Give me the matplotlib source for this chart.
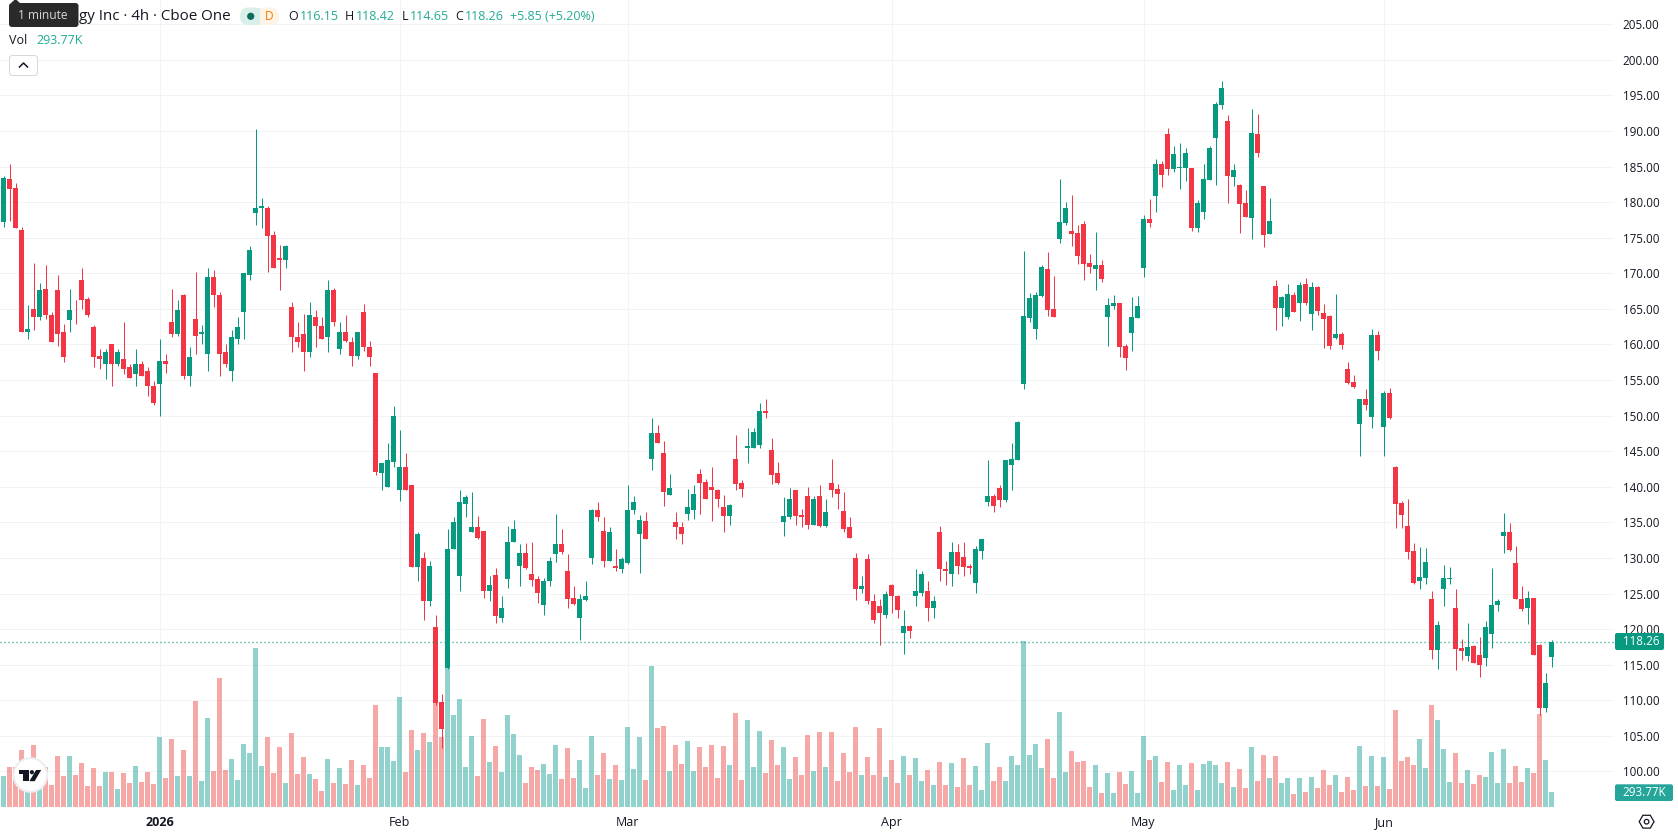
#!/usr/bin/env python3
import numpy as np
import matplotlib
matplotlib.use('Agg')
import matplotlib.pyplot as plt
from matplotlib.patches import Circle, FancyBboxPatch, Polygon, Rectangle, RegularPolygon
from matplotlib.transforms import Affine2D

opens = [177.2,183.2,182.0,176.1,161.8,165.0,163.9,167.8,164.2,167.7,
         161.8,163.4,164.6,169.0,166.4,162.4,158.4,157.2,160.0,157.3,
         158.0,156.9,155.9,157.3,156.3,154.2,154.5,157.7,163.2,161.5,
         166.9,155.5,163.6,161.5,158.6,169.5,166.9,158.9,156.2,160.8,
         164.5,169.8,178.4,179.2,179.2,175.4,172.1,171.9,165.3,161.1,
         161.4,159.0,163.8,162.6,161.0,167.6,159.4,161.7,160.4,158.4,
         164.6,159.7,156.0,142.0,140.0,143.5,139.6,142.8,140.3,128.8,
         130.0,124.0,120.3,109.8,114.6,131.2,127.4,137.6,133.6,134.3,
         133.8,125.3,127.6,121.6,127.1,132.3,128.9,130.7,127.8,127.1,
         123.4,126.7,130.5,131.9,128.1,124.4,121.6,124.1,130.0,136.8,
         133.8,129.6,128.9,128.5,129.3,136.8,133.4,135.2,143.9,147.5,
         144.8,138.9,135.0,134.4,136.2,136.8,141.8,140.7,140.0,139.6,
         137.2,135.9,143.9,140.6,145.4,145.5,145.9,150.6,145.1,142.0,
         135.0,135.8,139.6,136.1,138.7,134.7,138.7,134.5,140.6,139.7,
         136.6,134.3,130.0,125.7,129.8,124.0,123.2,122.0,126.2,124.6,
         119.5,120.5,124.6,125.1,125.4,122.9,133.7,128.5,127.8,130.9,
         130.2,128.9,126.5,131.0,137.9,138.7,139.9,138.2,143.1,143.8,
         154.4,163.7,162.2,166.8,170.6,165.0,174.8,177.1,175.9,175.7,
         176.9,171.4,170.6,171.2,163.9,165.4,165.8,159.8,161.6,163.7,
         170.7,177.6,180.9,185.4,189.6,184.7,184.8,184.8,184.8,176.4,
         178.6,183.1,189.0,193.6,191.4,183.5,182.4,179.9,177.8,189.6,
         182.3,175.5,168.2,165.1,163.9,166.9,165.8,168.5,164.3,168.1,
         164.4,164.0,160.9,161.5,156.6,154.7,148.8,152.3,149.8,161.3,
         148.4,153.2,142.8,137.7,134.5,131.0,126.8,127.2,124.2,117.1,
         125.6,127.0,123.0,117.4,116.2,117.6,116.4,115.9,119.3,123.4,
         133.1,133.7,129.3,124.2,123.0,124.4,117.8,108.9,116.15]
highs = [183.6,185.3,182.7,176.5,165.6,171.5,168.7,171.2,164.5,169.7,
         162.9,167.8,166.2,170.8,166.6,162.8,159.3,159.4,160.0,159.4,
         163.1,157.3,159.4,157.7,156.9,154.8,160.8,158.6,167.8,166.3,
         167.1,159.7,170.2,162.8,170.7,170.5,167.3,160.0,162.1,163.9,
         170.0,173.9,190.3,180.6,179.4,175.9,174.0,174.0,165.9,163.1,
         164.3,165.9,164.8,163.8,169.1,168.0,163.2,164.1,161.1,161.8,
         165.7,160.5,156.0,143.4,146.1,151.3,148.0,144.8,140.3,133.6,
         130.9,129.6,122.0,110.9,134.0,135.7,139.6,138.9,139.3,135.9,
         133.8,127.5,128.6,124.7,134.5,135.4,132.0,132.1,132.3,127.4,
         127.2,130.2,136.2,134.1,130.5,126.0,125.0,126.8,136.9,137.9,
         135.8,134.4,131.2,130.2,140.3,138.7,136.1,136.5,149.7,148.7,
         146.5,141.8,136.4,135.1,139.7,140.3,142.5,141.1,142.8,139.7,
         138.9,137.6,147.3,140.9,148.3,148.3,151.8,152.4,146.9,143.5,
         138.6,139.9,139.6,136.9,140.0,138.7,140.2,138.3,143.9,140.4,
         139.2,135.7,130.7,127.5,130.5,125.0,124.3,125.4,126.4,124.8,
         122.7,120.6,128.5,128.1,126.8,124.6,134.5,129.6,132.3,131.9,
         132.3,129.2,131.7,132.6,143.8,139.0,140.3,143.7,146.1,149.3,
         173.1,167.2,167.4,171.2,173.0,169.6,183.2,180.0,181.0,176.8,
         177.3,172.7,175.8,171.9,166.5,166.9,165.8,160.1,166.7,166.8,
         178.2,180.4,186.1,185.8,190.4,187.9,188.3,187.6,184.8,180.3,
         185.4,187.9,194.1,197.0,192.2,185.4,182.5,181.7,193.1,192.4,
         182.3,180.6,169.1,166.8,168.5,167.4,168.8,169.3,168.8,168.2,
         165.7,164.1,167.1,161.8,157.5,155.7,152.3,153.7,162.2,161.9,
         153.5,153.9,142.9,138.0,138.3,132.1,131.5,131.4,125.4,121.1,
         129.0,128.7,125.6,118.6,120.9,117.8,118.9,121.1,128.6,124.2,
         136.3,134.9,131.7,126.1,125.4,124.4,117.9,113.8,118.42]
lows = [176.5,177.3,176.3,161.7,160.7,162.1,163.4,163.6,160.4,159.8,
        157.6,161.8,162.9,165.0,163.8,156.9,156.6,155.2,154.2,157.0,
        155.9,155.3,154.2,155.5,152.7,151.5,149.9,156.0,161.1,161.2,
        155.1,154.2,158.6,160.0,156.3,165.3,155.6,156.9,154.8,160.0,
        160.8,169.1,176.8,176.3,170.2,170.8,167.7,170.8,159.0,159.6,
        156.2,158.3,159.6,160.8,158.9,162.6,158.7,160.4,157.0,157.9,
        159.1,157.0,141.7,139.5,140.0,142.8,138.0,139.5,128.8,126.8,
        121.3,123.2,109.3,103.3,114.4,131.2,125.3,135.7,133.6,132.7,
        124.4,124.0,120.8,121.0,125.8,132.3,126.0,128.5,126.1,123.7,
        122.0,126.0,129.5,130.5,122.9,123.4,118.5,123.9,129.1,135.2,
        128.8,129.6,128.1,127.9,129.1,136.2,127.9,132.6,142.3,146.2,
        137.3,138.9,132.7,131.9,135.4,135.5,136.2,138.3,135.2,137.1,
        133.6,134.7,139.6,138.5,143.4,145.5,145.4,149.7,140.4,140.4,
        133.1,135.5,134.7,134.3,134.1,134.7,134.4,134.4,138.5,136.9,
        133.7,132.8,124.1,125.1,123.6,120.9,117.8,121.5,122.2,121.6,
        116.5,118.7,123.3,124.6,121.2,121.6,126.7,126.2,126.0,127.8,
        127.5,127.8,125.1,129.8,137.3,136.4,137.1,137.9,139.5,143.8,
        153.7,163.2,160.8,166.7,164.0,163.9,174.3,176.8,173.8,171.3,
        169.1,170.0,167.7,168.8,159.8,165.0,158.2,156.4,159.1,163.7,
        169.5,176.5,178.6,182.1,183.8,184.2,181.8,183.0,175.9,175.8,
        177.6,183.1,182.4,193.1,179.9,182.3,175.7,177.9,174.8,186.3,
        173.7,175.5,162.0,162.6,163.6,164.6,163.3,165.5,162.0,164.1,
        159.5,159.4,160.8,159.4,154.5,153.9,144.3,150.8,148.3,157.8,
        144.3,149.5,134.2,134.2,129.9,126.3,125.6,126.3,115.8,114.4,
        123.3,126.3,114.3,115.7,115.5,115.2,113.3,114.8,117.4,122.6,
        130.7,131.0,124.2,122.6,120.7,116.4,107.9,108.4,114.65]
closes = [183.4,181.9,176.4,161.8,162.2,163.9,167.6,164.1,160.4,161.5,
          158.3,164.8,164.5,166.2,164.2,158.3,157.9,158.9,157.2,159.0,
          156.6,155.3,157.3,155.5,154.2,151.8,157.7,157.2,161.5,164.8,
          155.5,158.2,161.2,161.7,169.5,166.9,158.7,157.3,161.0,162.4,
          170.0,173.3,179.2,179.4,175.3,170.8,171.9,173.9,161.0,160.3,
          159.0,164.1,162.6,160.8,167.6,163.1,161.7,160.5,158.4,161.7,
          159.6,158.3,142.1,143.4,143.7,149.9,142.8,139.6,128.8,133.4,
          123.9,128.9,109.6,106.0,131.2,135.0,137.8,138.5,134.3,132.8,
          125.3,126.2,121.9,123.0,132.3,134.0,130.7,128.6,126.9,125.1,
          126.8,129.6,131.9,130.9,124.3,123.6,124.3,124.7,136.8,135.7,
          129.6,133.6,128.6,129.8,136.8,137.8,135.4,132.7,147.5,146.2,
          139.2,139.9,134.3,133.4,137.1,139.0,140.6,138.3,139.5,138.3,
          135.9,137.5,140.4,139.7,145.8,147.7,150.6,150.3,141.7,140.6,
          135.9,138.3,135.9,135.7,134.7,138.3,134.5,136.4,139.6,139.0,
          134.1,132.8,125.7,126.1,123.9,121.3,122.2,125.0,124.6,122.7,
          120.5,119.8,125.4,127.8,122.9,123.9,128.4,128.2,130.9,128.9,
          128.8,128.6,131.2,132.6,138.7,137.3,138.2,143.7,143.9,149.1,
          164.0,166.5,166.9,170.9,164.8,163.9,177.2,179.2,175.5,172.4,
          171.3,170.9,171.2,169.2,165.5,165.8,159.6,158.1,163.9,165.4,
          177.6,177.1,185.4,183.8,184.7,186.8,184.9,186.9,176.4,179.9,
          183.2,187.6,193.8,196.0,183.7,184.5,179.7,177.9,189.7,186.9,
          175.4,177.3,165.1,166.7,167.1,164.6,168.4,165.8,168.1,164.7,
          163.6,159.8,161.5,159.9,154.6,154.0,152.3,151.5,161.3,159.1,
          153.2,149.7,137.6,136.0,130.8,126.5,127.3,129.4,117.1,120.6,
          127.2,127.2,117.2,116.9,117.5,115.2,115.0,120.3,123.4,124.0,
          133.7,131.1,124.2,122.8,124.4,116.4,108.9,112.4,118.26]
# volume in thousands of shares
volumes = [607,784,784,1117,464,1215,464,784,431,999,
           607,999,627,862,411,764,411,686,686,353,
           666,470,803,490,686,451,1371,568,1332,607,
           1117,607,2077,509,1744,705,2527,725,940,529,
           1234,1058,3115,803,1371,666,1175,470,1450,646,
           980,646,549,313,940,470,764,451,921,431,
           823,568,1998,1175,1175,901,2155,686,1508,1117,
           1450,1273,2161,1378,2814,1802,2116,784,1391,607,
           1724,882,1195,686,1802,1430,1019,470,784,725,
           842,646,1215,549,1156,568,921,372,1391,627,
           1058,549,823,529,1567,744,1371,529,2762,1548,
           1587,705,1215,842,1293,705,1175,784,1215,568,
           1195,823,1841,529,1704,784,1489,666,1313,823,
           1175,549,980,627,1410,705,1469,784,1469,509,
           1058,686,1567,627,980,627,1548,588,921,470,
           999,627,960,509,725,431,882,431,862,392,
           960,431,803,333,1254,509,784,509,999,823,
           3252,1019,1234,764,1332,568,1861,686,1097,882,
           901,392,823,274,666,274,686,451,705,274,
           1391,921,999,490,882,333,823,431,862,333,
           842,901,823,470,882,392,744,372,1175,509,
           1019,568,999,470,568,255,568,294,588,372,
           725,431,627,294,588,333,1195,411,999,411,
           980,353,1900,901,980,823,1332,764,1998,1704,
           1136,490,1058,470,725,451,627,588,1077,470,
           1136,470,803,490,764,666,1822,921,293.77]

month_idx = [26, 66, 104, 148, 190, 230]
month_labels = ['2026', 'Feb', 'Mar', 'Apr', 'May', 'Jun']
price_ticks = np.arange(100, 206, 5)

W, H = 1678, 835
FONT = 'Open Sans'
INK = '#131722'
UP, DOWN = '#089981', '#f23645'
VOL_UP, VOL_DOWN = '#26a69a', '#ef5350'
TEAL_TEXT = '#22ab94'
PX = 0.72  # one pixel in points at dpi 100

plt.rcParams['font.family'] = [FONT, 'DejaVu Sans']

fig = plt.figure(figsize=(W / 100, H / 100), dpi=100, facecolor='white')
rect = [0, (H - 807) / H, 1614 / W, 807 / H]
ax = fig.add_axes(rect, zorder=1)
ax_vol = fig.add_axes(rect, zorder=2, sharex=ax)
ax_px = fig.add_axes(rect, zorder=3, sharex=ax, sharey=ax)

x = np.arange(len(closes))
o, h, l, c = map(np.array, (opens, highs, lows, closes))
up = c >= o

ax.set_xlim(-3.5 / 6, (1614 - 3.5) / 6)
ax.set_ylim(110 - 106.7 / 7.117, 110 + 700.3 / 7.117)
ax.set_xticks(month_idx, month_labels)
ax.set_yticks(price_ticks, [f'{p:.2f}' for p in price_ticks])
ax.yaxis.tick_right()
ax.grid(True, color='#f2f3f5', lw=PX)
ax.set_axisbelow(True)
ax.tick_params(axis='y', length=0, labelcolor=INK, labelsize=8.4, pad=6.3)
ax.tick_params(axis='x', length=0, labelcolor=INK, labelsize=9.0, pad=6.3)
ax.get_xticklabels()[0].set_fontweight('bold')
for s in ax.spines.values():
    s.set_visible(False)

# volume pane shares the price pane's area, scaled down along the bottom
ax_vol.axis('off')
ax_vol.set_ylim(0, 807 * 19.59)
ax_vol.bar(x, volumes, width=5 / 6, linewidth=0, alpha=0.5,
           color=[VOL_UP if u else VOL_DOWN for u in up])

ax_px.axis('off')
candle_colors = [UP if u else DOWN for u in up]
ax_px.vlines(x, l, h, colors=candle_colors, lw=PX)
ax_px.bar(x, np.abs(c - o), bottom=np.minimum(o, c), width=5 / 6, linewidth=0,
          color=candle_colors)
# one pixel on, three off
ax_px.axhline(closes[-1], color=UP, lw=1.0, ls=(0, (0.72, 2.16)), snap=True)

# everything below is placed in screen pixels, y counted from the top
px = Affine2D().scale(1, -1).translate(0, H)


def label(xp, yp, s, color=INK, size=9.0, ha='left', **kw):
    fig.text(xp / W, 1 - yp / H, s, color=color, fontsize=size, ha=ha, va='center',
             zorder=12, **kw)


def box(x0, y0, x1, y1, color, rad=2.0, edge='none', z=10):
    fig.add_artist(FancyBboxPatch((x0, y0), x1 - x0, y1 - y0,
                                  boxstyle=f'round,pad=0,rounding_size={rad}',
                                  fc=color, ec=edge, lw=PX, transform=px, zorder=z))


# last value badges
box(1615, 633, 1664, 650, UP)
label(1622.7, 641.3, f'{closes[-1]:.2f}', color='white', size=8.4)
box(1615, 784.3, 1673, 801, VOL_UP)
label(1622.7, 792.4, f'{volumes[-1]:.2f}K', color='white', size=8.4)

# header
label(79, 16.7, 'gy Inc · 4h · Cboe One', size=10.9)
box(240, 7.5, 262, 25, '#d9efea', rad=8.5, z=9)
box(258, 7.5, 279, 25, '#fdf3e7', rad=8.5, z=9)
fig.add_artist(Rectangle((255, 7.5), 5, 17.5, fc='#d9efea', ec='none', transform=px, zorder=9))
fig.add_artist(Rectangle((260, 7.5), 8, 17.5, fc='#fdf3e7', ec='none', transform=px, zorder=9))
fig.add_artist(Circle((250.7, 16.3), 3.6, fc='#0b6b5c', ec='none', transform=px, zorder=10))
label(269.3, 16.3, 'D', color='#f57c00', size=8.6, ha='center')

for xl, xv, name, val in [(288, 299.6, 'O', opens[-1]), (345, 356, 'H', highs[-1]),
                          (402, 409.5, 'L', lows[-1]), (455, 465, 'C', closes[-1])]:
    label(xl, 16.7, name, size=9.0)
    label(xv, 16.7, f'{val:.2f}', color=TEAL_TEXT, size=9.0)
label(510, 16.7, '+5.85 (+5.20%)', color=TEAL_TEXT, size=9.0)

label(9.2, 40.7, 'Vol', size=9.0)
label(36.7, 40.7, f'{volumes[-1]:.2f}K', color=TEAL_TEXT, size=9.0)

box(9.5, 55.5, 37.5, 75.5, 'white', rad=3, edge='#d6d8de')
fig.add_artist(plt.Line2D([19.5, 23.5, 27.5], [67, 63, 67], color=INK, lw=1.1,
                          transform=px, zorder=11))

# tooltip covering the start of the symbol name
box(9, 3, 78.5, 27, '#2a2a2a', rad=3, z=11)
fig.add_artist(Polygon([(11, 3), (15.5, -1), (20, 3)], fc='#2a2a2a', ec='none',
                       transform=px, zorder=11))
label(18, 15.6, '1 minute', color='#d8d8d8', size=8.6)

# logo badge in the lower left corner
fig.add_artist(Circle((30.4, 775), 16.8, fc='white', ec='#eceef1', lw=1.5, transform=px, zorder=9))
fig.add_artist(Polygon([(18.6, 770), (28.6, 770), (28.6, 781.2), (23.4, 781.2), (23.4, 774), (18.6, 774)],
                       fc='#131722', ec='none', transform=px, zorder=10))
fig.add_artist(Circle((31.9, 772.2), 2.1, fc='#131722', ec='none', transform=px, zorder=10))
fig.add_artist(Polygon([(36, 770), (41.2, 770), (34.6, 781.2), (29.4, 781.2)],
                       fc='#131722', ec='none', transform=px, zorder=10))

# settings icon under the price scale
fig.add_artist(RegularPolygon((1646.6, 821.7), 6, radius=7.4, orientation=np.pi / 2,
                              fc='none', ec=INK, lw=0.9, transform=px, zorder=10))
fig.add_artist(Circle((1646.6, 821.7), 2.3, fc='none', ec=INK, lw=0.9, transform=px, zorder=10))

fig.savefig('out.png', dpi=100)
